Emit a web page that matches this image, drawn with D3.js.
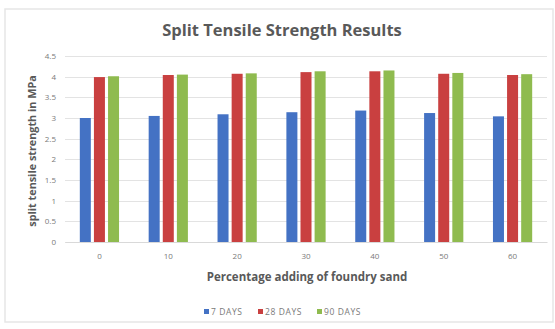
<!DOCTYPE html>
<html><head><meta charset="utf-8">
<script src="https://cdn.jsdelivr.net/npm/d3@7"></script>
<style>body{margin:0;background:#fff}svg{display:block}</style>
</head><body>
<svg id="c" width="555" height="329"></svg>
<script>
const categories = ["0","10","20","30","40","50","60"];
const seriesNames = ["7 DAYS","28 DAYS","90 DAYS"];
const days7 = [3.0, 3.05, 3.09, 3.14, 3.18, 3.12, 3.04];
const days28 = [3.99, 4.04, 4.07, 4.11, 4.13, 4.07, 4.04];
const days90 = [4.01, 4.05, 4.08, 4.13, 4.15, 4.09, 4.06];
const yTicks = [0,0.5,1,1.5,2,2.5,3,3.5,4,4.5];
const colors = ["#4472c4","#c94040","#8fbb4f"];
const seriesValues = [days7, days28, days90];

const svg = d3.select("#c");
svg.append("rect").attr("x",5).attr("y",9).attr("width",548).attr("height",313)
  .attr("fill","#fff").attr("stroke","#e6e6e6").attr("stroke-width",1.5);

const mLeft = 65, mRight = 547, mTop = 56, mBottom = 242;
const x = d3.scaleBand().domain(categories).range([mLeft,mRight]);
const y = d3.scaleLinear().domain([0,4.5]).range([mBottom,mTop]);
const xs = d3.scaleBand().domain(seriesNames).range([0, x.bandwidth()]).paddingInner(0.22).paddingOuter(1.05);

const grid = svg.append("g");
grid.selectAll("line").data(yTicks).join("line")
  .attr("x1",mLeft).attr("x2",mRight)
  .attr("y1",d=>Math.round(y(d))+0.5).attr("y2",d=>Math.round(y(d))+0.5)
  .attr("stroke","#e3e3e3").attr("stroke-width",1);

const yAxis = svg.append("g").attr("transform",`translate(${mLeft},0)`)
  .call(d3.axisLeft(y).tickValues(yTicks).tickSize(0).tickPadding(9).tickFormat(d=>String(d)));
yAxis.select(".domain").remove();
yAxis.selectAll("text").attr("font-family","Open Sans, sans-serif").attr("font-size",8).attr("fill","#7a7a7a");

const groups = svg.append("g").selectAll("g").data(categories).join("g")
  .attr("transform",d=>`translate(${x(d)},0)`);
groups.selectAll("rect").data((d,i)=>seriesValues.map((s,j)=>({name:seriesNames[j],v:s[i],j})))
  .join("rect")
  .attr("x",d=>xs(d.name)).attr("width",xs.bandwidth())
  .attr("y",d=>y(d.v)).attr("height",d=>y(0)-y(d.v))
  .attr("fill",d=>colors[d.j]);

const xAxis = svg.append("g").attr("transform",`translate(0,${mBottom})`)
  .call(d3.axisBottom(x).tickSize(0).tickPadding(11));
xAxis.select(".domain").attr("stroke","#d9d9d9");
xAxis.selectAll("text").attr("font-family","Open Sans, sans-serif").attr("font-size",8).attr("fill","#7a7a7a");

svg.append("text").attr("x",282).attr("y",36).attr("text-anchor","middle")
  .attr("font-family","Open Sans, sans-serif").attr("font-weight","bold").attr("font-size",16.5)
  .attr("fill","#595959").text("Split Tensile Strength Results");

svg.append("text").attr("x",307).attr("y",281).attr("text-anchor","middle")
  .attr("font-family","Open Sans, sans-serif").attr("font-weight","bold").attr("font-size",11.5)
  .attr("fill","#595959").text("Percentage adding of foundry sand");

svg.append("text").attr("transform","translate(36,151) rotate(-90)").attr("text-anchor","middle")
  .attr("font-family","Open Sans, sans-serif").attr("font-weight","bold").attr("font-size",10.8)
  .attr("fill","#595959").text("split tensile strength in MPa");

const legendX = [204, 258, 317];
const lg = svg.append("g").selectAll("g").data(seriesNames).join("g")
  .attr("transform",(d,i)=>`translate(${legendX[i]},309)`);
lg.append("rect").attr("width",5).attr("height",5).attr("fill",(d,i)=>colors[i]);
lg.append("text").attr("x",7).attr("y",5.5).attr("font-family","Open Sans, sans-serif")
  .attr("font-size",8.5).attr("letter-spacing",0.6).attr("fill","#7a7a7a").text(d=>d);
</script>
</body></html>
